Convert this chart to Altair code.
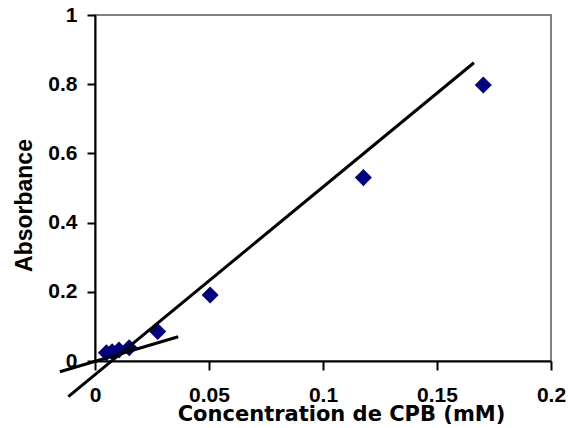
import altair as alt
import pandas as pd

# Measured absorbance against CPB concentration
conc = [0.005, 0.0075, 0.0105, 0.015, 0.0275, 0.0505, 0.1177, 0.1703]
absorb = [0.024, 0.027, 0.032, 0.038, 0.085, 0.191, 0.530, 0.798]

# End points of the two straight-line fits
fit_high_x = [-0.0117, 0.1662]
fit_high_y = [-0.103, 0.862]
fit_low_x = [-0.0154, 0.0365]
fit_low_y = [-0.031, 0.070]

x_ticks = [0, 0.05, 0.1, 0.15, 0.2]
y_ticks = [0, 0.2, 0.4, 0.6, 0.8, 1]

points = pd.DataFrame({"c": conc, "a": absorb})
fits = pd.DataFrame({
    "c": fit_high_x + fit_low_x,
    "a": fit_high_y + fit_low_y,
    "fit": ["high", "high", "low", "low"],
})

x_scale = alt.Scale(domain=[0, 0.2], nice=False, zero=False)
y_scale = alt.Scale(domain=[0, 1], nice=False, zero=False)

x_axis = alt.Axis(
    title="Concentration de CPB (mM)", values=x_ticks, format="~g", grid=False,
    domainColor="black", domainWidth=2, tickColor="black", tickWidth=2, tickSize=9,
    labelFont="Liberation Sans", labelFontWeight="bold", labelFontSize=21, labelColor="black",
    labelPadding=14, labelFlush=False,
    titleFont="DejaVu Sans", titleFontWeight="bold", titleFontSize=21, titleColor="black",
    titleBaseline="alphabetic", titleY=59, titleX=246, titleAlign="center",
)
y_axis = alt.Axis(
    title="Absorbance", values=y_ticks, format="~g", grid=False,
    domainColor="black", domainWidth=2, tickColor="black", tickWidth=2, tickSize=8,
    labelFont="Liberation Sans", labelFontWeight="bold", labelFontSize=21, labelColor="black",
    labelPadding=10, labelFlush=False,
    titleFont="Liberation Sans", titleFontWeight="bold", titleFontSize=23, titleColor="black",
    titleBaseline="alphabetic", titleX=-64, titleY=190, titleAlign="center",
)

lines = alt.Chart(fits).mark_line(color="black", strokeWidth=3).encode(
    x=alt.X("c:Q", scale=x_scale, axis=x_axis),
    y=alt.Y("a:Q", scale=y_scale, axis=y_axis),
    detail="fit:N",
)

dots = alt.Chart(points).mark_point(
    shape="diamond", filled=True, size=290, color="#000080", opacity=1
).encode(
    x=alt.X("c:Q", scale=x_scale),
    y=alt.Y("a:Q", scale=y_scale),
)

chart = (
    alt.layer(dots, lines)
    .properties(
        width=456, height=346,
        autosize=alt.AutoSizeParams(type="none"),
        padding={"left": 95, "top": 15, "right": 17, "bottom": 67},
        background="white",
    )
    .configure_view(stroke="#808080", strokeWidth=2)
)

chart.save("out.html", embed_options={"renderer": "svg", "actions": False})
